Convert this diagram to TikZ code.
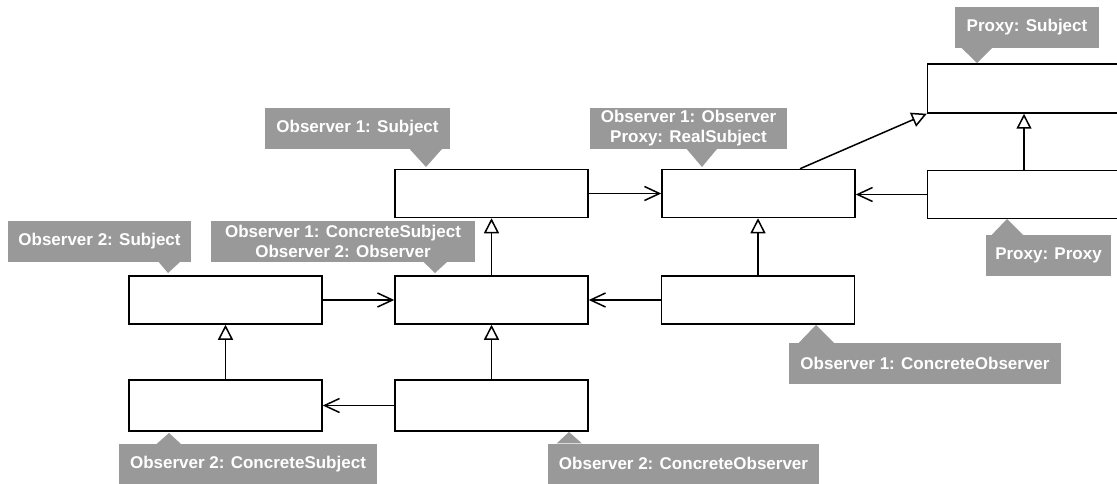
\documentclass[tikz,border=0pt]{standalone}
\usepackage{fontspec}
\setmainfont{Liberation Sans}
\usetikzlibrary{arrows.meta,calc}
\definecolor{taggray}{RGB}{153,153,153}
\tikzset{
  x=1pt, y=-1pt,
  cls/.style={draw=black, line width=1.5pt, fill=white, minimum width=193pt, minimum height=48pt, inner sep=0pt},
  tag/.style={fill=taggray, text=white, font=\fontsize{17}{20}\selectfont\bfseries, align=center, inner sep=0pt},
  tagtip/.style={fill=taggray},
  assoc/.style={line width=1.5pt, -{Straight Barb[length=15pt,width=14pt]}},
  inherit/.style={line width=1.5pt, -{Triangle[open,length=15pt,width=15pt,fill=white]}},
}
\begin{document}
\begin{tikzpicture}
\useasboundingbox (0,0) rectangle (1117,484);
\begin{scope}
\clip (0,0) rectangle (1117,484);

% classes
\node[cls] (subj1)  at (491.5,193.5) {};
\node[cls] (real)   at (758.5,193.5) {};
\node[cls, minimum height=49pt] (psubj) at (1024,88.5) {};
\node[cls] (proxy)  at (1024,194.5) {};
\node[cls] (subj2)  at (225.5,300) {};
\node[cls] (csubj1) at (491.5,300) {};
\node[cls] (cobs1)  at (758,300) {};
\node[cls, minimum height=51pt] (csubj2) at (225.5,405.5) {};
\node[cls, minimum height=51pt] (cobs2)  at (491.5,405.5) {};

% associations
\draw[assoc] (subj1.east) -- (real.west);
\draw[assoc] (proxy.west) -- (proxy.west -| real.east);
\draw[assoc] (subj2.east) -- (csubj1.west);
\draw[assoc] (cobs1.west) -- (csubj1.east);
\draw[assoc] (cobs2.west) -- (cobs2.west -| csubj2.east);

% generalisations
\draw[inherit] ($(real.north)+(41.5,0)$) -- (psubj.south west);
\draw[inherit] (proxy.north) -- (psubj.south);
\draw[inherit] (csubj1.north) -- (subj1.south);
\draw[inherit] (cobs1.north) -- (cobs1.north |- real.south);
\draw[inherit] (csubj2.north) -- (subj2.south);
\draw[inherit] (cobs2.north) -- (csubj1.south);

% role tags
\node[tag, minimum width=144pt, minimum height=41pt] (tPS) at (1027,27.5) {Proxy: Subject};
\fill[tagtip] ($(tPS.south west)+(7,0)$) -- (977,63) -- ($(tPS.south west)+(37,0)$) -- cycle;

\node[tag, minimum width=185pt, minimum height=41pt] (tO1S) at (357.5,128.5) {Observer 1: Subject};
\fill[tagtip] ($(tO1S.south west)+(145,0)$) -- (426,167) -- ($(tO1S.south west)+(177,0)$) -- cycle;

\node[tag, minimum width=197pt, minimum height=41pt] (tO1O) at (688.5,128.5) {Observer 1: Observer\\Proxy: RealSubject};
\fill[tagtip] ($(tO1O.south west)+(97,0)$) -- (702,167) -- ($(tO1O.south west)+(127,0)$) -- cycle;

\node[tag, minimum width=264pt, minimum height=41pt] (tO1CS) at (343,241.5) {Observer 1: ConcreteSubject\\Observer 2: Observer};
\fill[tagtip] ($(tO1CS.south west)+(213,0)$) -- (435,273) -- ($(tO1CS.south west)+(236,0)$) -- cycle;

\node[tag, minimum width=183pt, minimum height=41pt] (tO2S) at (99.5,241.5) {Observer 2: Subject};
\fill[tagtip] ($(tO2S.south west)+(151,0)$) -- (168,273) -- ($(tO2S.south west)+(172,0)$) -- cycle;

\node[tag, minimum width=125pt, minimum height=41pt] (tPP) at (1048.5,255.5) {Proxy: Proxy};
\fill[tagtip] ($(tPP.north west)+(6,0)$) -- (1007,219) -- ($(tPP.north west)+(37,0)$) -- cycle;

\node[tag, minimum width=272pt, minimum height=41pt] (tO1CO) at (925,363.5) {Observer 1: ConcreteObserver};
\fill[tagtip] ($(tO1CO.north west)+(10,0)$) -- (816,325) -- ($(tO1CO.north west)+(45,0)$) -- cycle;

\node[tag, minimum width=271pt, minimum height=40pt] (tO2CO) at (683.5,463.5) {Observer 2: ConcreteObserver};
\fill[tagtip] ($(tO2CO.north west)+(9,0)$) -- (569,432) -- ($(tO2CO.north west)+(34,0)$) -- cycle;

\node[tag, minimum width=258pt, minimum height=40pt] (tO2CS) at (248,464) {Observer 2: ConcreteSubject};
\fill[tagtip] ($(tO2CS.north west)+(38,0)$) -- (169,433) -- ($(tO2CS.north west)+(62,0)$) -- cycle;
\end{scope}
\end{tikzpicture}
\end{document}
